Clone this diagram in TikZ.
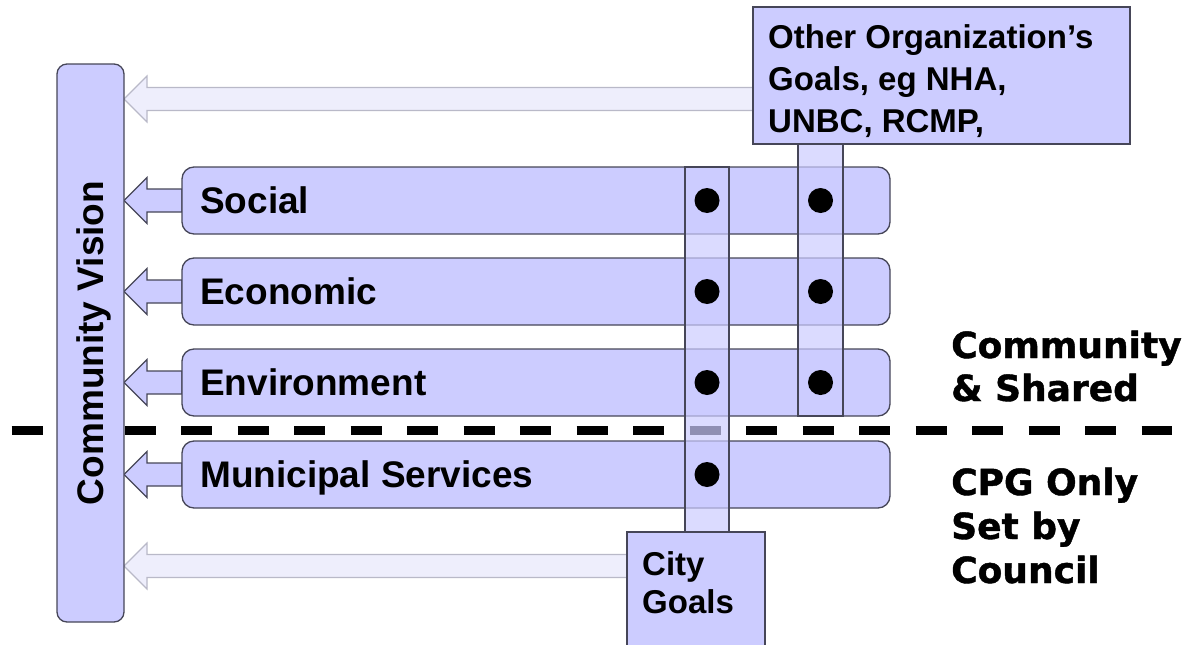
\documentclass[tikz,border=0pt]{standalone}
\usepackage{fontspec}
\setmainfont{Liberation Sans}
\newfontfamily\heavyfont{DejaVu Sans}[BoldFeatures={FakeBold=1.2}]
\usetikzlibrary{calc}
\pgfdeclarelayer{back}
\pgfsetlayers{back,main}
\definecolor{lav}{RGB}{204,204,255}
\definecolor{lavfaint}{RGB}{238,238,252}
\definecolor{edgec}{RGB}{70,70,88}
\definecolor{faintedge}{RGB}{185,185,200}
\newcommand\blockarrow[3]{%
  \draw[#1] let \p1=(#2), \p2=(#3) in
    (\x1,\y1+11.5pt) -- (\x2+23pt,\y1+11.5pt) -- (\x2+23pt,\y1+23pt) -- (\x2,\y1)
    -- (\x2+23pt,\y1-23pt) -- (\x2+23pt,\y1-11.5pt) -- (\x1,\y1-11.5pt) -- cycle;}
\newcommand\linestack[2]{\vtop{\baselineskip=#1\relax\lineskiplimit=-100pt #2}}
\begin{document}
\begin{tikzpicture}[x=1pt,y=-1pt,
  box/.style={draw=edgec, fill=lav, line width=1.3pt, inner sep=0pt, outer sep=0pt},
  rowbox/.style={box, rounded corners=12pt, anchor=north west, minimum width=708pt, minimum height=67pt},
  goalbox/.style={box, anchor=north west},
  colbox/.style={draw=edgec, line width=1.1pt, fill=lav, fill opacity=0.7, inner sep=0pt, outer sep=0pt, anchor=north},
  rowarrow/.style={draw=edgec, fill=lav, line width=1.1pt},
  faintarrow/.style={draw=faintedge, fill=lavfaint, line width=1.1pt},
  dot/.style={circle, fill=black, minimum size=25pt, inner sep=0pt},
  rowtext/.style={anchor=base west, inner sep=0pt, font=\fontsize{37}{44}\selectfont\bfseries},
  goaltext/.style={anchor=base west, inner sep=0pt, font=\fontsize{33}{40}\selectfont\bfseries},
  sidetext/.style={anchor=base west, inner sep=0pt, font=\heavyfont\fontsize{36}{43}\selectfont\bfseries},
  divider/.style={line width=9pt, dash pattern=on 31pt off 25.5pt}
]
\useasboundingbox (0,0) rectangle (1191,645);
\clip (0,0) rectangle (1191,645);

% main boxes
\node[box, rounded corners=10pt, minimum width=67pt, minimum height=558pt] (cv) at (90.5,343) {};
\node[goalbox, minimum width=377pt, minimum height=137pt] (other) at (753,7) {};
\node[goalbox, minimum width=138pt, minimum height=140pt] (city) at (627,532) {};
\coordinate (otail) at (other.west |- 0,99);
\coordinate (ctail) at (city.west |- 0,566);

% rows
\node[rowbox] (social) at (182,167) {};
\node[rowbox] (econ) at (182,258) {};
\node[rowbox] (env) at (182,349) {};
\node[rowbox] (muni) at (182,441) {};

% arrows and divider behind the boxes
\begin{pgfonlayer}{back}
  \blockarrow{faintarrow}{otail}{cv.east}
  \blockarrow{faintarrow}{ctail}{cv.east}
  \draw[divider] (11.5,430) -- (1172,430);
  \blockarrow{rowarrow}{social.west}{cv.east}
  \blockarrow{rowarrow}{econ.west}{cv.east}
  \blockarrow{rowarrow}{env.west}{cv.east}
  \blockarrow{rowarrow}{muni.west}{cv.east}
\end{pgfonlayer}

% columns
\node[colbox, minimum width=44pt, minimum height=365pt] (citycol) at (707,167) {};
\node[colbox, minimum width=45pt, minimum height=272pt] (othercol) at (820.5,144) {};

% dots
\node[dot] (d1) at (citycol |- social.center) {};
\node[dot] (d2) at (citycol |- econ.center) {};
\node[dot] (d3) at (citycol |- env.center) {};
\node[dot] (d4) at (citycol |- muni.center) {};
\node[dot] (d5) at (othercol |- social.center) {};
\node[dot] (d6) at (othercol |- econ.center) {};
\node[dot] (d7) at (othercol |- env.center) {};

% texts
\node[rotate=90, inner sep=0pt, text height=26.5pt, text depth=0pt, font=\fontsize{37}{44}\selectfont\bfseries] (cvt) at (cv.center) {Community Vision};
\node[rowtext] (t1) at (200,213) {Social};
\node[rowtext] (t2) at (200,304) {Economic};
\node[rowtext] (t3) at (200,395) {Environment};
\node[rowtext] (t4) at (200,487) {Municipal Services};
\node[goaltext] (ot) at (768,48) {\linestack{42pt}{\hbox{Other Organization’s}\hbox{Goals, eg NHA,}\hbox{UNBC, RCMP,}}};
\node[goaltext] (ct) at (642,575) {\linestack{38pt}{\hbox{City}\hbox{Goals}}};
\node[sidetext] (s1) at (951,358) {\linestack{43pt}{\hbox{Community}\hbox{\& Shared}}};
\node[sidetext] (s2) at (951,495) {\linestack{44pt}{\hbox{CPG Only}\hbox{Set by}\hbox{Council}}};
\end{tikzpicture}
\end{document}
